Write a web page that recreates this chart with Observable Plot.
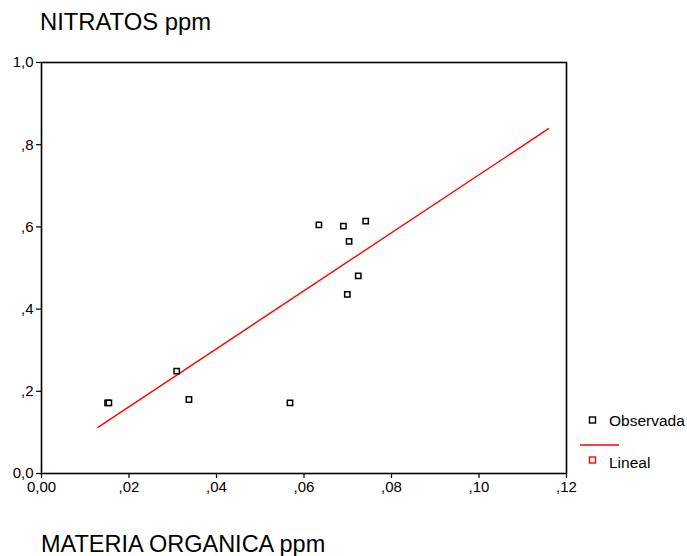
<!DOCTYPE html>
<html>
<head>
<meta charset="utf-8">
<script src="https://cdn.jsdelivr.net/npm/d3@7"></script>
<script src="https://cdn.jsdelivr.net/npm/@observablehq/plot@0.6"></script>
<style>
  html, body { margin: 0; padding: 0; background: #fff; }
  #chart svg { display: block; font-family: "Liberation Sans", Arial, sans-serif; }
</style>
</head>
<body>
<div id="chart"></div>
<script>
// Observed cases: organic matter (x) vs nitrates (y), ppm
const materiaOrganica = [0.0151, 0.0154, 0.0309, 0.0337, 0.0568, 0.0634, 0.0690, 0.0741, 0.0703, 0.0724, 0.0699];
const nitratos        = [0.172,  0.172,  0.249,  0.180,  0.172,  0.605,  0.602,  0.614,  0.565,  0.481,  0.436];

// Linear fit ("Lineal") drawn between its end points
const linealX = [0.0129, 0.1159];
const linealY = [0.1124, 0.839];

const xTicks = [0, 0.02, 0.04, 0.06, 0.08, 0.10, 0.12];
const xTickLabels = ["0,00", ",02", ",04", ",06", ",08", ",10", ",12"];
const yTicks = [0, 0.2, 0.4, 0.6, 0.8, 1.0];
const yTickLabels = ["0,0", ",2", ",4", ",6", ",8", "1,0"];

const titleText = "NITRATOS ppm";
const xLabelText = "MATERIA ORGANICA ppm";
const legendLabels = ["Observada", "Lineal"];

const observed = materiaOrganica.map((x, i) => ({x, y: nitratos[i]}));
const fit = linealX.map((x, i) => ({x, y: linealY[i]}));

const W = 687, H = 556;
const font = "'Liberation Sans', Arial, sans-serif";

const chart = Plot.plot({
  width: W,
  height: H,
  marginLeft: 41,
  marginRight: 121,
  marginTop: 62,
  marginBottom: 83,
  style: {fontFamily: font, background: "#fff", color: "#000"},
  x: {domain: [0, 0.12]},
  y: {domain: [0, 1]},
  marks: [
    Plot.frame({stroke: "#000", strokeWidth: 1.6}),
    Plot.axisX({
      ticks: xTicks,
      tickFormat: (d) => xTickLabels[xTicks.findIndex((t) => Math.abs(t - d) < 1e-9)],
      tickSize: 5, tickPadding: 3, fontSize: 15, label: null, stroke: "#000", strokeWidth: 1.2
    }),
    Plot.axisY({
      ticks: yTicks,
      tickFormat: (d) => yTickLabels[yTicks.findIndex((t) => Math.abs(t - d) < 1e-9)],
      tickSize: 5, tickPadding: 3, fontSize: 15, label: null, stroke: "#000", strokeWidth: 1.2
    }),
    Plot.line(fit, {x: "x", y: "y", stroke: "#f00", strokeWidth: 1.4}),
    Plot.dot(observed, {x: "x", y: "y", symbol: "square", r: 3, stroke: "#000", strokeWidth: 1.5, fill: "#fff"})
  ]
});

const svg = d3.select(chart);

// Title and x-axis label
svg.append("text").attr("x", 40).attr("y", 30)
  .attr("text-anchor", "start")
  .attr("font-family", font).attr("font-size", 23.8).attr("fill", "#000")
  .text(titleText);
svg.append("text").attr("x", 41).attr("y", 551.5)
  .attr("text-anchor", "start")
  .attr("font-family", font).attr("font-size", 23.5).attr("fill", "#000")
  .text(xLabelText);

// Legend
const lg = svg.append("g").attr("font-family", font).attr("font-size", 15.5)
  .attr("fill", "#000").attr("text-anchor", "start");
lg.append("rect").attr("x", 589.5).attr("y", 417).attr("width", 6).attr("height", 6)
  .attr("fill", "#fff").attr("stroke", "#000").attr("stroke-width", 1.4);
lg.append("text").attr("x", 609).attr("y", 425.5).text(legendLabels[0]);
lg.append("line").attr("x1", 580).attr("x2", 619).attr("y1", 445).attr("y2", 445)
  .attr("stroke", "#f00").attr("stroke-width", 1.4);
lg.append("rect").attr("x", 589.5).attr("y", 457).attr("width", 6).attr("height", 6)
  .attr("fill", "#fff").attr("stroke", "#f00").attr("stroke-width", 1.4);
lg.append("text").attr("x", 609).attr("y", 468).text(legendLabels[1]);

document.getElementById("chart").appendChild(chart);
</script>
</body>
</html>
